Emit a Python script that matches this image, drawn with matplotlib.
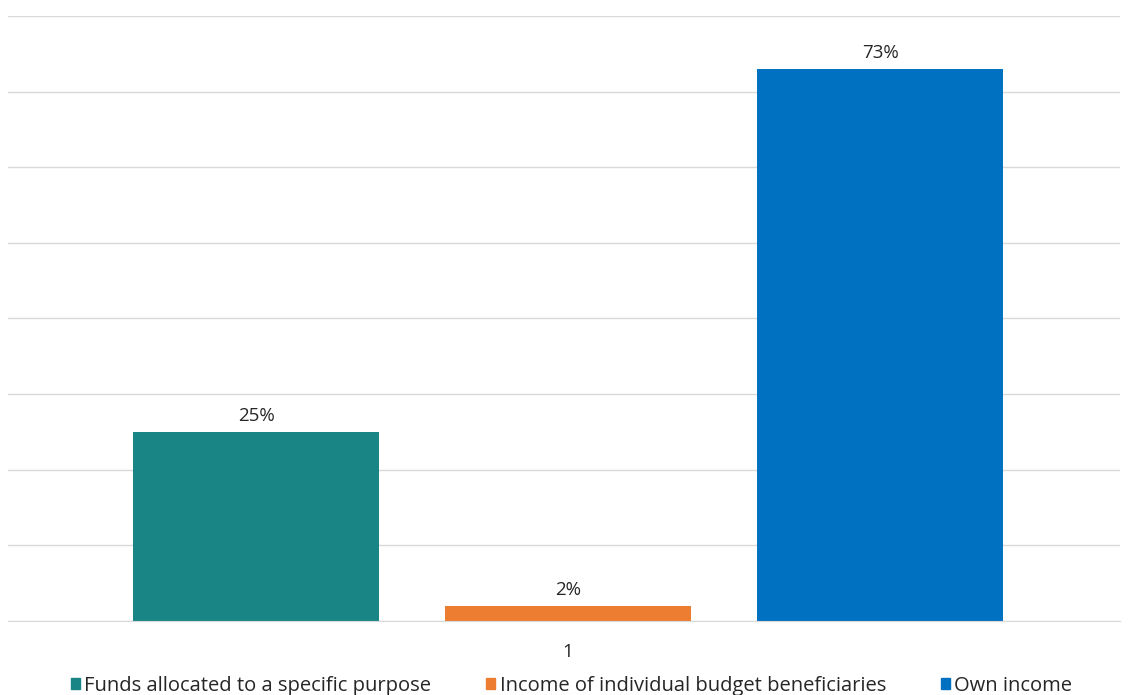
import numpy as np
import matplotlib.pyplot as plt
from matplotlib.patches import Patch

plt.rcParams['font.family'] = ['Open Sans', 'DejaVu Sans']

# Daten
categories = ['1']
series = ['Funds allocated to a specific purpose',
          'Income of individual budget beneficiaries',
          'Own income']
values = [25, 2, 73]
colors = ['#198685', '#ED7D31', '#0070C0']

fig = plt.figure(figsize=(11.32, 6.95), dpi=100)
ax = fig.add_axes([0.0071, 0.1065, 0.9823, 0.8705])

width = 0.2212
offsets = [-0.2806, 0.0, 0.2806]
x = np.arange(len(categories))
for name, val, col, off in zip(series, values, colors, offsets):
    b = ax.bar(x + off, [val], width, color=col, label=name, zorder=3)
    ax.bar_label(b, labels=[f'{val}%'], padding=5, fontsize=13.5, color='#262626')

ax.set_xlim(-0.5036, 0.4964)
ax.set_ylim(0, 80)
ax.set_yticks(np.arange(0, 81, 10))
ax.set_yticklabels([])
ax.tick_params(axis='y', length=0)
ax.grid(axis='y', color='#D9D9D9', linewidth=1, zorder=0)
ax.set_xticks(x)
ax.set_xticklabels(categories, fontsize=13.5, color='#262626')
ax.tick_params(axis='x', length=0, pad=16)
for s in ['top', 'right', 'left']:
    ax.spines[s].set_visible(False)
ax.spines['bottom'].set_color('#D9D9D9')
ax.spines['bottom'].set_zorder(4)

handles = [Patch(color=c) for c in colors]
fig.legend(handles, series, loc='center', bbox_to_anchor=(0.505, 0.013),
           ncol=3, frameon=False, fontsize=14.5, handlelength=0.45, handleheight=0.45,
           handletextpad=0.2, columnspacing=2.75, labelcolor='#262626')

plt.savefig('out.png', dpi=100)
